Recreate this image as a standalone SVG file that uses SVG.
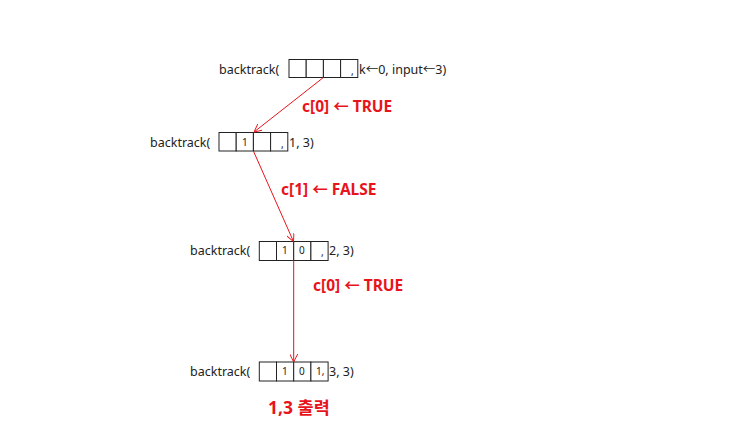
<svg xmlns="http://www.w3.org/2000/svg" width="745" height="435" viewBox="0 0 745 435">
<style>
.t{font-family:"Noto Sans","Noto Sans CJK KR",sans-serif;font-size:12.5px;fill:#222}
.d{font-family:"Noto Sans","Noto Sans CJK KR",sans-serif;font-size:10px;fill:#222}
.l{font-family:"Noto Sans","Noto Sans CJK KR",sans-serif;font-size:15.5px;font-weight:bold;fill:#e8141b}
.b{fill:#fff;stroke:#222;stroke-width:1}
.c{stroke:#e8141b;stroke-width:1;fill:none}
</style>
<defs>
<marker id="ah" viewBox="0 0 10 10" refX="10" refY="5" markerWidth="8" markerHeight="8" orient="auto" markerUnits="userSpaceOnUse">
<path d="M0,0 L10,5 L0,10" fill="none" stroke="#e8141b" stroke-width="1.2"/>
</marker>
</defs>
<rect width="745" height="435" fill="#fff"/>
<g id="node1">
<text class="t" x="219" y="74">backtrack(</text>
<rect class="b" x="289" y="59.5" width="17.2" height="18"/>
<rect class="b" x="306.2" y="59.5" width="17.2" height="18"/>
<rect class="b" x="323.4" y="59.5" width="17.2" height="18"/>
<rect class="b" x="340.6" y="59.5" width="17.2" height="18"/>
<text class="d" x="351" y="75">,</text>
<text class="t" x="359" y="74">k←0, input←3)</text>
</g>
<g id="node2">
<text class="t" x="150" y="147">backtrack(</text>
<rect class="b" x="219" y="132.5" width="17.2" height="18.5"/>
<rect class="b" x="236.2" y="132.5" width="17.2" height="18.5"/>
<rect class="b" x="253.4" y="132.5" width="17.2" height="18.5"/>
<rect class="b" x="270.6" y="132.5" width="17.2" height="18.5"/>
<text class="d" x="242" y="146">1</text>
<text class="d" x="281" y="148">,</text>
<text class="t" x="289" y="147">1, 3)</text>
</g>
<g id="node3">
<text class="t" x="190" y="255">backtrack(</text>
<rect class="b" x="259.3" y="241.5" width="17.2" height="19"/>
<rect class="b" x="276.5" y="241.5" width="17.2" height="19"/>
<rect class="b" x="293.7" y="241.5" width="17.2" height="19"/>
<rect class="b" x="310.9" y="241.5" width="17.2" height="19"/>
<text class="d" x="282" y="254">1</text>
<text class="d" x="299" y="254">0</text>
<text class="d" x="321" y="256">,</text>
<text class="t" x="329" y="255">2, 3)</text>
</g>
<g id="node4">
<text class="t" x="190" y="376">backtrack(</text>
<rect class="b" x="259.3" y="362" width="17.2" height="19"/>
<rect class="b" x="276.5" y="362" width="17.2" height="19"/>
<rect class="b" x="293.7" y="362" width="17.2" height="19"/>
<rect class="b" x="310.9" y="362" width="17.2" height="19"/>
<text class="d" x="282" y="375">1</text>
<text class="d" x="299" y="375">0</text>
<text class="d" x="316" y="375">1,</text>
<text class="t" x="329" y="376">3, 3)</text>
</g>
<g id="connectors">
<line class="c" x1="323.4" y1="77.5" x2="254" y2="132" marker-end="url(#ah)"/>
<line class="c" x1="253.4" y1="151" x2="293.5" y2="241.5" marker-end="url(#ah)"/>
<line class="c" x1="293.7" y1="260.5" x2="293.7" y2="362" marker-end="url(#ah)"/>
</g>
<g id="labels">
<text class="l" x="302" y="112">c[0] ← TRUE</text>
<text class="l" x="281" y="195">c[1] ← FALSE</text>
<text class="l" x="313" y="291">c[0] ← TRUE</text>
<text class="l" x="268" y="414" style="font-size:17.5px">1,3 출력</text>
</g>
</svg>
